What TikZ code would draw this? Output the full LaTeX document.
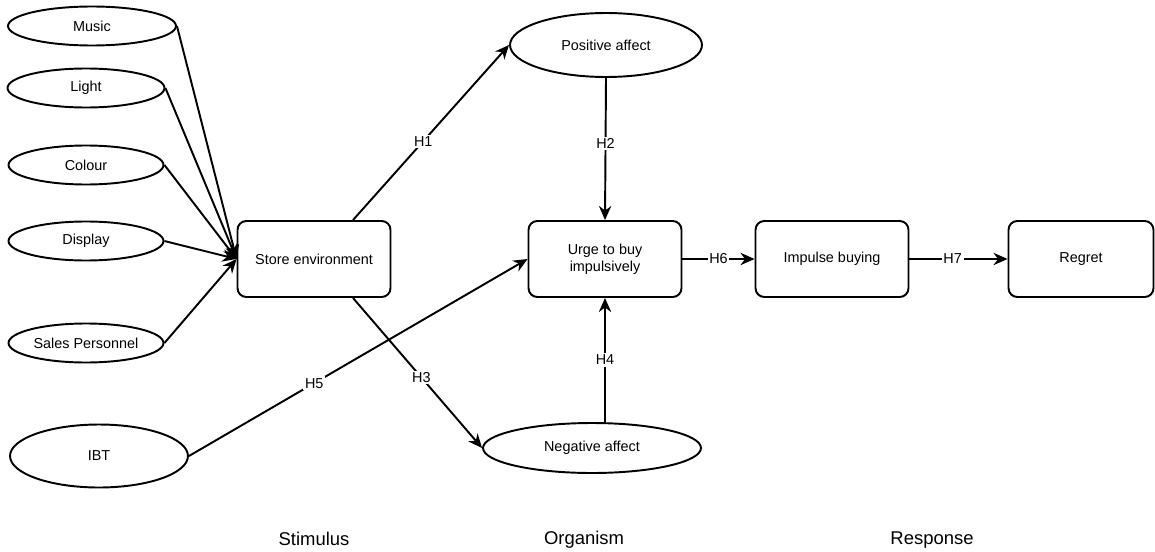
\documentclass[tikz,border=0pt]{standalone}
\usepackage{fontspec}
\setmainfont{Liberation Sans}
\usetikzlibrary{shapes.geometric,arrows.meta}

\begin{document}
\begin{tikzpicture}[x=0.02cm,y=-0.02cm,
    kasten/.style={draw,rounded corners=5pt,line width=1.1pt,minimum width=3.06cm,minimum height=1.52cm,align=center,font=\fontsize{8.2}{9.5}\selectfont},
    oval/.style={draw,ellipse,line width=1.1pt,inner sep=0pt,font=\fontsize{8.2}{10}\selectfont},
    pfeil/.style={line width=1.1pt,-{Stealth[length=8pt,width=7pt]}},
    hmarke/.style={fill=white,inner sep=1pt,font=\fontsize{8.2}{10}\selectfont},
    bereich/.style={font=\fontsize{10.5}{12}\selectfont}]
    % Rahmen
    \useasboundingbox (0,0) rectangle (1155,551);

    % Reize links
    \foreach \name/\txt/\x/\y/\w in {music/Music/92/26/3.36, light/Light/86/88/3.14, colour/Colour/86/165/3.1, display/Display/86/241/3.1, sales/Sales Personnel/86/343/3.1} {
        \node[oval,minimum width=\w cm,minimum height=0.78cm] (\name) at (\x,\y) {\txt};
    }
    \node[oval,minimum width=3.56cm,minimum height=1.26cm] (ibt) at (99,456) {IBT};

    % Kaesten
    \node[kasten] (store) at (314,259) {Store environment};
    \node[kasten] (urge) at (605,259) {Urge to buy\\impulsively};
    \node[kasten] (impulse) at (832,259) {Impulse buying};
    \node[kasten,minimum width=2.9cm] (regret) at (1081,259) {Regret};

    % Affekte
    \node[oval,minimum width=3.84cm,minimum height=1.28cm] (pos) at (606,45) {Positive affect};
    \node[oval,minimum width=4.36cm,minimum height=1.0cm] (neg) at (592,448) {Negative affect};

    % Pfeile zur Umgebung
    \foreach \name in {music,light,colour,display,sales} {
        \draw[pfeil] (\name.east) -- (store.west);
    }

    % Hypothesen
    \draw[pfeil] ([xshift=0.78cm]store.north) -- node[hmarke,pos=0.45] {H1} (pos.west);
    \draw[pfeil] (pos.south) -- node[hmarke,pos=0.46] {H2} (urge.north);
    \draw[pfeil] ([xshift=0.78cm]store.south) -- node[hmarke,pos=0.53] {H3} (neg.west);
    \draw[pfeil] (neg.north -| urge.south) -- node[hmarke,pos=0.5] {H4} (urge.south);
    \draw[pfeil] (ibt.east) -- node[hmarke,pos=0.37] {H5} (urge.west);
    \draw[pfeil] (urge.east) -- node[hmarke,pos=0.5] {H6} (impulse.west);
    \draw[pfeil] (impulse.east) -- node[hmarke,pos=0.44] {H7} (regret.west);

    % Bereiche unten
    \node[bereich] (stim) at (314,539) {Stimulus};
    \node[bereich] (org) at (584,540) {Organism};
    \node[bereich] (resp) at (932,540) {Response};
\end{tikzpicture}
\end{document}
